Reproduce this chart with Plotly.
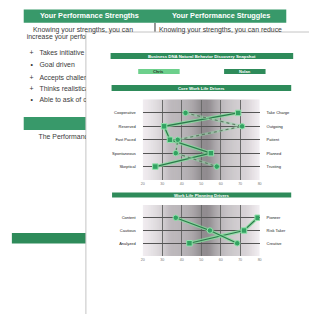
import plotly.graph_objects as go

# ---------------- data ----------------
core_left = ["Cooperative", "Reserved", "Fast Paced", "Spontaneous", "Skeptical"]
core_right = ["Take Charge", "Outgoing", "Patient", "Planned", "Trusting"]
core_nolan = [69, 31, 34, 55, 26.5]
core_chris = [42, 71, 38, 37, 58]

plan_left = ["Content", "Cautious", "Analyzed"]
plan_right = ["Pioneer", "Risk Taker", "Creative"]
plan_nolan = [79, 72, 44]
plan_chris = [37, 54.5, 68.5]

x_ticks = [20, 30, 40, 50, 60, 70, 80]

bg_headers = ["Your Performance Strengths", "Your Performance Struggles"]
bg_intro = ["Knowing your strengths, you can", "Knowing your strengths, you can reduce"]
bg_lines = ["increase your performance by", "Takes initiative", "Goal driven",
            "Accepts challenges", "Thinks realistically", "Able to ask of others",
            "The Performance"]
bg_bullets = ["+", "\u2022", "+", "+", "\u2022"]

doc_title = "Business DNA Natural Behavior Discovery Snapshot"
people = ["Chris", "Nolan"]
section_titles = ["Core Work Life Drivers", "Work Life Planning Drivers"]

# ---------------- helpers ----------------
W, H = 309, 314
FONT = "Liberation Sans, Arial, sans-serif"
def px(x): return x / W
def py(y): return 1 - y / H

shapes, annos = [], []
def rect(x0, y0, x1, y1, fill, line=None, lw=0, layer="below"):
    shapes.append(dict(type="rect", xref="paper", yref="paper",
                       x0=px(x0), x1=px(x1), y0=py(y1), y1=py(y0),
                       fillcolor=fill, line=dict(color=line or fill, width=lw),
                       layer=layer))
def text(x, y, s, size, color="#fff", anchor="center", bold=False):
    annos.append(dict(xref="paper", yref="paper", x=px(x), y=py(y), text=s,
                      showarrow=False, xanchor=anchor, yanchor="middle",
                      font=dict(family=FONT, size=size, color=color,
                                weight="bold" if bold else "normal")))

GREEN_D = "#2e8b5a"
GREEN_BG = "#38996a"
GREEN_L = "#6dd08c"
BG_TXT = "#3a3a3a"
BG_SIZE = 6.9

# ---------------- background page ----------------
rect(22, 9.5, 288, 22.7, GREEN_BG)
text(89, 16, bg_headers[0], 7.3, bold=True)
text(222, 16, bg_headers[1], 7.3, bold=True)
shapes.append(dict(type="line", xref="paper", yref="paper", x0=px(155), x1=px(155),
                   y0=py(23), y1=py(33), line=dict(color="#333", width=1), layer="below"))
text(29, 29.5, bg_intro[0], BG_SIZE, color=BG_TXT, anchor="left")
text(157, 29.5, bg_intro[1], BG_SIZE, color=BG_TXT, anchor="left")
rect(22, 117, 92, 130, GREEN_BG)
rect(10, 233, 92, 243.5, GREEN_D)

# ---------------- front page ----------------
rect(85, 32, 312, 318, "#ffffff", line="#c4c4c4", lw=1)

rect(110, 53, 295, 59, GREEN_D)
text(202.5, 56.2, doc_title, 4.3, bold=True)
rect(138, 69, 180, 74, GREEN_L)
text(159, 71.6, people[0], 4, color="#1d3a28", bold=True)
rect(225, 69, 267, 74, GREEN_D)
text(246, 71.6, people[1], 4, bold=True)
rect(111, 85, 293, 91, GREEN_D)
text(202, 88.1, section_titles[0], 4.3, bold=True)
rect(111.5, 192.5, 293, 197.5, GREEN_D)
text(202, 195.1, section_titles[1], 4.3, bold=True)

# gradient plot backgrounds
def grey(u):
    d = abs(u - 50) / 30.0
    v = int(round(128 + 108 * d ** 0.9))
    return "rgb(%d,%d,%d)" % (min(v + 3, 255), max(v - 2, 0), min(v + 2, 255))
for xr, yr in (("x", "y"), ("x3", "y3")):
    steps = 120
    for i in range(steps):
        u0 = 20 + 60 * i / steps
        u1 = 20 + 60 * (i + 1) / steps
        c = grey((u0 + u1) / 2)
        shapes.append(dict(type="rect", xref=xr, yref=yr + " domain", x0=u0, x1=u1 + 0.05,
                           y0=0, y1=1, fillcolor=c, line=dict(width=0), layer="below"))

fig = go.Figure()

HALO = "rgba(130,225,155,0.75)"
CORE = "#2c7a4c"
MK = dict(color="#32a262", line=dict(color="#92e2ab", width=1.0))

def series(xs, ys, xa, ya, symbol, dotted=False):
    fig.add_trace(go.Scatter(x=xs, y=ys, xaxis=xa, yaxis=ya, mode="lines",
                             line=dict(color=HALO if not dotted else "rgba(150,215,170,0.55)",
                                       width=3.4 if not dotted else 2.6),
                             hoverinfo="skip"))
    fig.add_trace(go.Scatter(x=xs, y=ys, xaxis=xa, yaxis=ya, mode="lines+markers",
                             line=dict(color=CORE if not dotted else "#5f7f66", width=1.2,
                                       dash="dot" if dotted else "solid"),
                             marker=dict(symbol=symbol, size=5.5, **MK)))

rows_core = list(range(1, len(core_left) + 1))
rows_plan = list(range(1, len(plan_left) + 1))
series(core_chris, rows_core, "x", "y2", "circle", dotted=True)
series(core_nolan, rows_core, "x", "y", "square")
series(plan_chris, rows_plan, "x3", "y4", "circle")
series(plan_nolan, rows_plan, "x3", "y3", "square")

# clipped text of the background page (left column, hidden by front page)
fig.add_trace(go.Scatter(
    x=[25] + [38] * 5 + [37], y=[37.5, 53, 65.5, 78.5, 89, 100, 137],
    xaxis="x5", yaxis="y5", mode="text", text=bg_lines,
    textposition="middle right", cliponaxis=True,
    textfont=dict(family=FONT, size=BG_SIZE, color=BG_TXT), hoverinfo="skip"))
fig.add_trace(go.Scatter(
    x=[30] * 5, y=[53, 65.5, 78.5, 89, 100], xaxis="x5", yaxis="y5", mode="text",
    text=bg_bullets, textposition="middle center", cliponaxis=True,
    textfont=dict(family=FONT, size=BG_SIZE, color="#333"), hoverinfo="skip"))

XD = [px(142.5), px(261)]
xcommon = dict(domain=XD, range=[20, 80], tickvals=x_ticks, showgrid=True,
               gridcolor="#6a6a6a", gridwidth=0.6, zeroline=False, ticks="",
               tickfont=dict(family=FONT, size=3.6, color="#777"), showline=False,
               fixedrange=True)
ycommon = dict(zeroline=False, ticks="", showline=False, ticklabelstandoff=6,
               tickfont=dict(family=FONT, size=4, color="#222"), fixedrange=True)

fig.update_layout(
    width=W, height=H, margin=dict(l=0, r=0, t=0, b=0),
    paper_bgcolor="#ffffff", plot_bgcolor="rgba(0,0,0,0)", showlegend=False,
    shapes=shapes, annotations=annos,
    xaxis=dict(anchor="y", **xcommon),
    yaxis=dict(domain=[py(180), py(99.5)], range=[len(core_left) + 1, 0], anchor="x",
               tickvals=rows_core, ticktext=core_left, showgrid=True,
               gridcolor="#555", gridwidth=0.7, **ycommon),
    yaxis2=dict(domain=[py(180), py(99.5)], range=[len(core_left) + 1, 0], anchor="x",
                overlaying="y", side="right", tickvals=rows_core, ticktext=core_right,
                showgrid=False, **ycommon),
    xaxis3=dict(anchor="y3", **xcommon),
    yaxis3=dict(domain=[py(256), py(205)], range=[len(plan_left) + 1, 0], anchor="x3",
                tickvals=rows_plan, ticktext=plan_left, showgrid=True,
                gridcolor="#555", gridwidth=0.7, **ycommon),
    yaxis4=dict(domain=[py(256), py(205)], range=[len(plan_left) + 1, 0], anchor="x3",
                overlaying="y3", side="right", tickvals=rows_plan, ticktext=plan_right,
                showgrid=False, **ycommon),
    xaxis5=dict(domain=[0, px(85)], range=[0, 85], visible=False, fixedrange=True),
    yaxis5=dict(domain=[0, py(32)], range=[H, 32], visible=False, fixedrange=True,
                anchor="x5"),
)

fig.write_html("out.html", config={"displayModeBar": False},
               post_script="document.body.style.margin='0';document.body.style.padding='0';"
                           "document.body.style.overflow='hidden';")
